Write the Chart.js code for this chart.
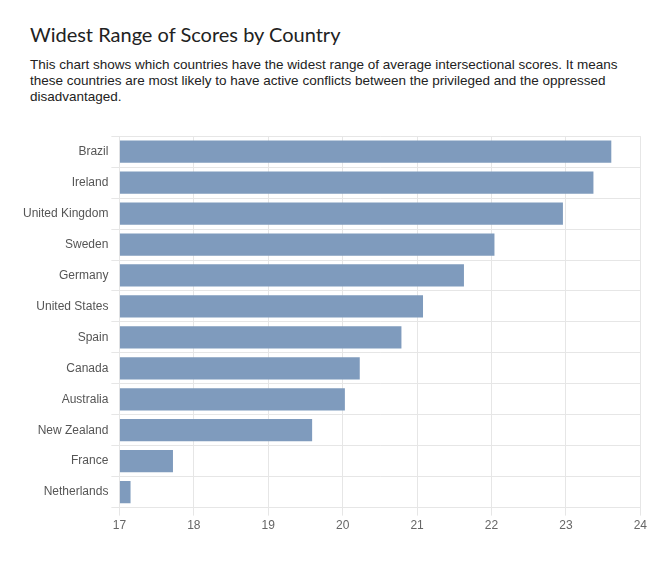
<!DOCTYPE html>
<html>
<head>
<meta charset="utf-8">
<script src="https://cdn.jsdelivr.net/npm/chart.js@4"></script>
<style>
  body { margin: 0; background: #fff; }
  #wrap { position: absolute; left: 0; top: 0; width: 662px; height: 562px; }
  h1 { position: absolute; left: 30px; top: 22px; margin: 0; font: 400 20px Lato, sans-serif; color: #222; }
  p { position: absolute; left: 30px; top: 57px; width: 610px; margin: 0; font: 13.5px "Liberation Sans", Arial, sans-serif; line-height: 16px; color: #222; }
  #box { position: absolute; left: 20px; top: 126px; width: 630px; height: 410px; }
</style>
</head>
<body>
<div id="wrap">
  <h1>Widest Range of Scores by Country</h1>
  <p>This chart shows which countries have the widest range of average intersectional scores. It means these countries are most likely to have active conflicts between the privileged and the oppressed disadvantaged.</p>
  <div id="box"><canvas id="c"></canvas></div>
</div>
<script>
const countries = ["Brazil", "Ireland", "United Kingdom", "Sweden", "Germany", "United States", "Spain", "Canada", "Australia", "New Zealand", "France", "Netherlands"];
const ranges = [23.61, 23.37, 22.96, 22.04, 21.63, 21.08, 20.79, 20.23, 20.03, 19.59, 17.72, 17.15];

new Chart(document.getElementById("c"), {
  type: "bar",
  data: {
    labels: countries,
    datasets: [{ data: ranges, backgroundColor: "#7f9bbd", base: 17, categoryPercentage: 0.72, barPercentage: 1 }]
  },
  options: {
    indexAxis: "y",
    responsive: true,
    maintainAspectRatio: false,
    animation: false,
    layout: { padding: { right: 8 } },
    plugins: { legend: { display: false }, tooltip: { enabled: false } },
    scales: {
      x: {
        min: 17, max: 24,
        ticks: { stepSize: 1, color: "#666", font: { family: "Liberation Sans", size: 12 } },
        grid: { color: "#e6e6e6" },
        border: { color: "#e6e6e6" }
      },
      y: {
        ticks: { color: "#555", font: { family: "Liberation Sans", size: 12 } },
        grid: { color: "#e6e6e6", offset: true },
        border: { color: "#e6e6e6" }
      }
    }
  }
});
</script>
</body>
</html>
